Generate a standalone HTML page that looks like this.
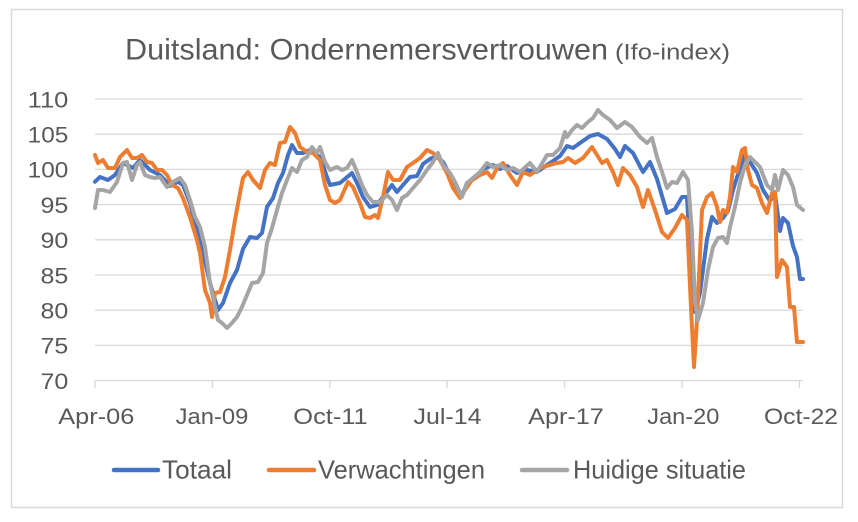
<!DOCTYPE html>
<html><head><meta charset="utf-8"><style>
html,body{margin:0;padding:0;background:#fff;}
svg{display:block;}
text{font-family:"Liberation Sans",sans-serif;fill:#595959;}
</style></head><body>
<svg width="858" height="522" viewBox="0 0 858 522" xmlns="http://www.w3.org/2000/svg">
<rect x="0" y="0" width="858" height="522" fill="#fff"/>
<rect x="11.5" y="9.5" width="831" height="498" fill="#fff" stroke="#d9d9d9" stroke-width="1.5"/>
<text x="125" y="59.5" font-size="30" textLength="483" lengthAdjust="spacingAndGlyphs">Duitsland: Ondernemersvertrouwen</text>
<text x="615" y="59.5" font-size="22" textLength="115" lengthAdjust="spacingAndGlyphs">(Ifo-index)</text>
<g stroke="#d9d9d9" stroke-width="1.3">
<line x1="95" y1="99" x2="803" y2="99"/>
<line x1="95" y1="134.2" x2="803" y2="134.2"/>
<line x1="95" y1="169.4" x2="803" y2="169.4"/>
<line x1="95" y1="204.6" x2="803" y2="204.6"/>
<line x1="95" y1="239.8" x2="803" y2="239.8"/>
<line x1="95" y1="275" x2="803" y2="275"/>
<line x1="95" y1="310.2" x2="803" y2="310.2"/>
<line x1="95" y1="345.4" x2="803" y2="345.4"/>
<line x1="95" y1="380.6" x2="803" y2="380.6"/>
<line x1="95" y1="380.6" x2="95" y2="388"/>
<line x1="212.4" y1="380.6" x2="212.4" y2="388"/>
<line x1="329.8" y1="380.6" x2="329.8" y2="388"/>
<line x1="447.2" y1="380.6" x2="447.2" y2="388"/>
<line x1="564.6" y1="380.6" x2="564.6" y2="388"/>
<line x1="682" y1="380.6" x2="682" y2="388"/>
<line x1="799.4" y1="380.6" x2="799.4" y2="388"/>
</g>
<g font-size="22">
<text x="27.7" y="107.3" textLength="40.6" lengthAdjust="spacingAndGlyphs">110</text>
<text x="27.7" y="142.5" textLength="40.6" lengthAdjust="spacingAndGlyphs">105</text>
<text x="27.7" y="177.7" textLength="40.6" lengthAdjust="spacingAndGlyphs">100</text>
<text x="40.5" y="212.9" textLength="27.8" lengthAdjust="spacingAndGlyphs">95</text>
<text x="40.5" y="248.1" textLength="27.8" lengthAdjust="spacingAndGlyphs">90</text>
<text x="40.5" y="283.3" textLength="27.8" lengthAdjust="spacingAndGlyphs">85</text>
<text x="40.5" y="318.5" textLength="27.8" lengthAdjust="spacingAndGlyphs">80</text>
<text x="40.5" y="353.7" textLength="27.8" lengthAdjust="spacingAndGlyphs">75</text>
<text x="40.5" y="388.9" textLength="27.8" lengthAdjust="spacingAndGlyphs">70</text>
</g>
<g font-size="22" text-anchor="middle">
<text x="96.3" y="424" textLength="76" lengthAdjust="spacingAndGlyphs">Apr-06</text>
<text x="212" y="424" textLength="72.6" lengthAdjust="spacingAndGlyphs">Jan-09</text>
<text x="330.5" y="424" textLength="74.4" lengthAdjust="spacingAndGlyphs">Oct-11</text>
<text x="447.5" y="424" textLength="68" lengthAdjust="spacingAndGlyphs">Jul-14</text>
<text x="566" y="424" textLength="75.7" lengthAdjust="spacingAndGlyphs">Apr-17</text>
<text x="683.3" y="424" textLength="72" lengthAdjust="spacingAndGlyphs">Jan-20</text>
<text x="801" y="424" textLength="74" lengthAdjust="spacingAndGlyphs">Oct-22</text>
</g>
<g fill="none" stroke-width="4" stroke-linejoin="round" stroke-linecap="round">
<polyline stroke="#4472C4" points="95,181.7 100,177 108,180 115,175 123,163 133,168 140,160 150,170 160,175 170,186 178,181.7 183,185 190,203 197,230 203,253 210,283 218,310 223,303 230,283 237,270 243,249 250,237 257,238 262,233 267,207 273,198 278,183 283,173 288,155 292,145 297,153 303,153 310,150 320,157 327,177 330,185 340,183 352,173 357,183 363,197 370,207 377,205 383,197 392,185 397,192 403,185 410,177 417,176 423,164 430,159 437,156 443,162 450,175 457,187 462,196 467,183 477,177 483,169 493,165 500,169 507,166 517,173 527,170 537,172 547,165 553,161 560,156 567,146 573,148 580,143 590,136 598,134 607,139 615,149 620,157 625,146 633,153 643,172 650,162 657,179 667,213 675,209 682,197 687,197 692,287 695,312 700,293 707,239 712,217 717,223 723,218 728,211 733,190 740,168 745,155 750,162 757,173 763,190 770,201 775,194 780,231 783,218 788,223 793,246 797,257 800,279 803,279"/>
<polyline stroke="#ED7D31" points="95,155 98,163 103,160 108,168 115,168 120,157 127,150 132,158 137,158 142,155 147,162 152,163 157,170 162,170 167,175 172,185 178,188 183,198 190,217 197,240 200,253 205,290 210,303 212,317 215,293 220,292 225,277 230,250 235,220 240,193 243,178 248,172 253,180 260,188 265,170 270,163 275,165 280,143 285,142 290,127 295,133 300,147 307,152 313,153 320,160 325,185 330,200 335,203 340,200 348,182 353,187 360,203 365,217 370,218 375,215 378,218 383,197 388,172 393,180 400,180 407,167 413,163 420,158 427,150 433,153 440,160 447,173 453,188 460,198 465,190 472,180 480,175 487,172 492,178 497,168 503,163 510,175 517,185 523,172 530,175 540,168 550,165 557,163 563,162 568,158 575,163 583,158 592,147 597,155 602,163 607,160 613,172 618,185 623,168 630,175 637,187 643,207 648,190 655,210 662,232 668,238 675,228 682,215 687,220 691,307 694,367 697,320 702,210 707,197 712,193 717,207 720,222 723,210 727,213 730,197 733,167 737,172 742,150 745,148 748,170 752,185 757,188 762,203 767,213 772,193 775,192 777,277 782,260 787,267 790,307 794,307 797,342 803,342"/>
<polyline stroke="#A5A5A5" points="95,208 98,190 103,190 110,192 117,182 123,163 127,162 132,180 137,165 140,162 145,175 150,177 155,178 160,177 167,187 173,182 180,178 185,185 190,200 195,217 200,227 205,247 210,283 215,307 218,320 222,323 227,328 232,323 237,317 242,307 247,295 252,283 258,282 263,273 267,243 272,228 277,210 282,193 287,180 292,168 297,172 302,160 307,157 312,147 317,153 320,147 325,162 330,170 337,167 342,170 347,168 352,160 357,172 362,185 367,195 373,202 380,202 387,195 392,200 397,210 402,198 407,195 413,188 420,180 427,170 433,162 438,153 443,165 450,173 455,182 462,197 467,183 473,178 480,172 487,163 493,167 500,165 507,170 513,168 520,172 530,163 537,172 547,155 553,155 560,148 565,132 567,137 572,130 577,125 582,128 588,122 593,118 598,110 603,115 610,120 617,128 625,122 632,127 640,137 647,143 652,138 657,157 663,175 667,188 672,182 677,183 683,172 688,180 692,233 695,303 698,320 703,303 708,270 713,247 718,238 723,237 727,243 730,227 735,207 740,183 745,165 750,157 755,162 760,167 767,185 772,190 775,175 778,190 783,170 788,175 793,187 797,205 803,210"/>
</g>
<g stroke-width="4.5" stroke-linecap="round">
<line x1="114" y1="470" x2="158" y2="470" stroke="#4472C4"/>
<line x1="269" y1="470" x2="314" y2="470" stroke="#ED7D31"/>
<line x1="522" y1="470" x2="567" y2="470" stroke="#A5A5A5"/>
</g>
<g font-size="26">
<text x="162" y="478.3" textLength="70" lengthAdjust="spacingAndGlyphs">Totaal</text>
<text x="318" y="478.3" textLength="167" lengthAdjust="spacingAndGlyphs">Verwachtingen</text>
<text x="573" y="478.3" textLength="173" lengthAdjust="spacingAndGlyphs">Huidige situatie</text>
</g>
</svg>
</body></html>
